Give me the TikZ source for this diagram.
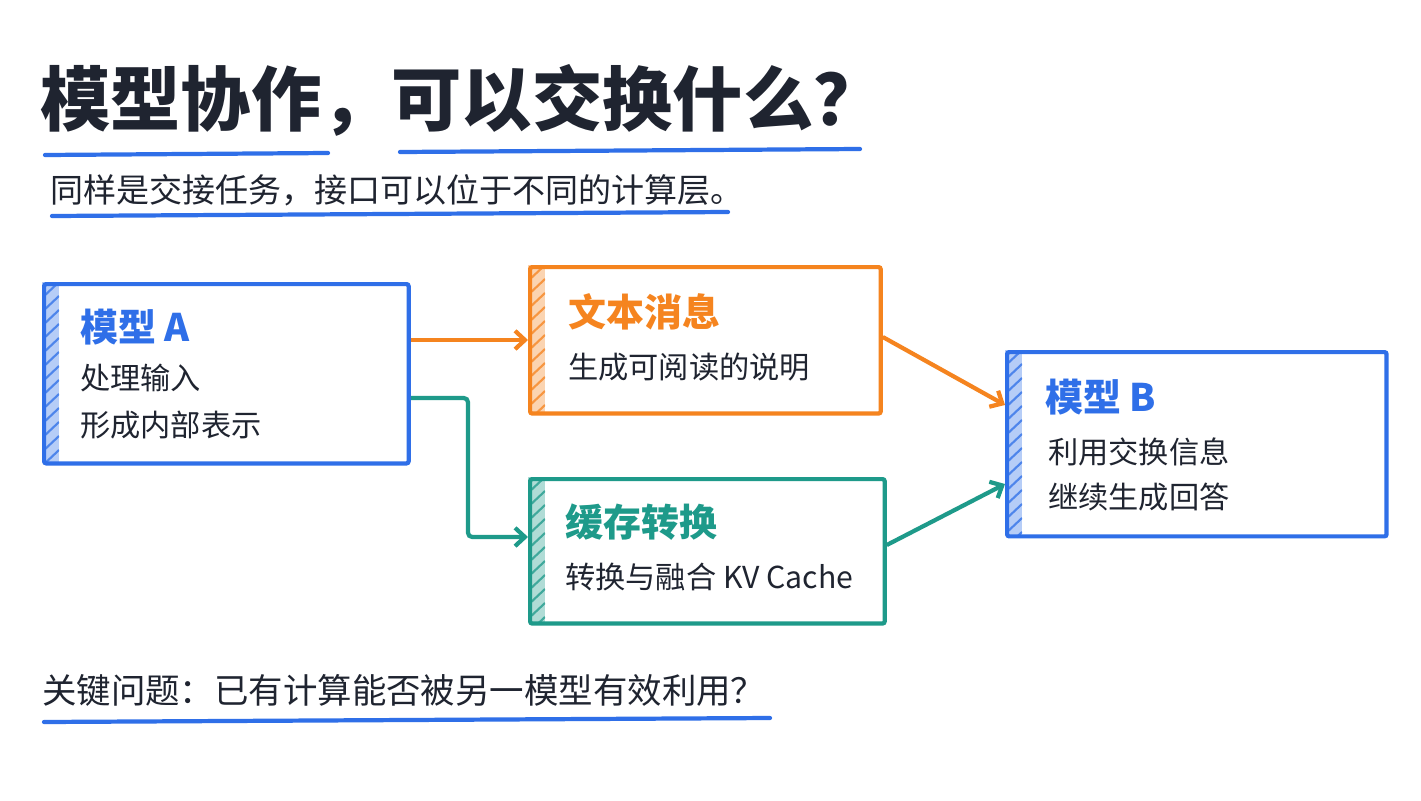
\documentclass[tikz,border=0pt]{standalone}
\usepackage{fontspec}
\setmainfont{Noto Sans CJK SC}
\usetikzlibrary{calc,arrows.meta}
\definecolor{inkDark}{HTML}{1F2430}
\definecolor{boxBlue}{HTML}{2F6FE8}
\definecolor{boxOrange}{HTML}{F5841F}
\definecolor{boxTeal}{HTML}{1E9A8A}
\newcommand{\px}{1.417pt}
\tikzset{
  card/.style={draw=#1, line width=6pt, rounded corners=3pt, anchor=north west, inner sep=0pt},
  cardTitle/.style={anchor=west, text=#1, font=\fontsize{54}{60}\selectfont\bfseries, inner sep=0pt},
  cardText/.style={anchor=west, text=inkDark, font=\fontsize{43}{48}\selectfont, inner sep=0pt},
  link/.style={draw=#1, line width=6pt, -{Straight Barb[length=14pt,width=26pt,line width=6pt]}, rounded corners=6pt},
  underline/.style={draw=boxBlue, line width=6pt, line cap=round}
}
\begin{document}
\begin{tikzpicture}[x=0.05cm,y=-0.05cm]
	\useasboundingbox[fill=white] (0,0) rectangle (1421,800);
	% heading
	\node[anchor=west, inner sep=0pt, text=inkDark, font=\fontsize{100}{106}\selectfont\bfseries] (title) at (40,100) {模型协作，可以交换什么？};
	\draw[underline] (45,155) -- (328,153);
	\draw[underline] (400,152) -- (860,149);
	\node[anchor=west, inner sep=0pt, text=inkDark, font=\fontsize{47}{50}\selectfont] (subtitle) at (50,190) {同样是交接任务，接口可以位于不同的计算层。};
	\draw[underline] (52,216) -- (728,212);
	% boxes
	\foreach \name/\col/\xa/\ya/\xb/\yb in {modelA/boxBlue/42/282/408/462, textMsg/boxOrange/528/265/880/412, cacheConv/boxTeal/528/477/884/622, modelB/boxBlue/1005/350/1386/535}
	{
		\begin{scope}
			\clip (\xa,\ya) rectangle (\xa+17,\yb);
			\fill[\col!35] (\xa,\ya) rectangle (\xa+17,\yb);
			\foreach \k in {0,14,...,200}
				\draw[\col!85, line width=3pt] (\xa,\ya+\k+16) -- (\xa+17,\ya+\k);
		\end{scope}
		\node[card=\col, minimum width={(\xb-\xa)*\px}, minimum height={(\yb-\ya)*\px}] (\name) at (\xa,\ya) {};
	}
	\node[cardTitle=boxBlue] (aTitle) at (80,327) {模型 A};
	\node[cardText] (aLine1) at (80,378) {处理输入};
	\node[cardText] (aLine2) at (80,425) {形成内部表示};
	\node[cardTitle=boxOrange] (msgTitle) at (568,312) {文本消息};
	\node[cardText] (msgLine) at (568,367) {生成可阅读的说明};
	\node[cardTitle=boxTeal] (cacheTitle) at (565,522) {缓存转换};
	\node[cardText] (cacheLine) at (565,577) {转换与融合 KV Cache};
	\node[cardTitle=boxBlue] (bTitle) at (1045,397) {模型 B};
	\node[cardText] (bLine1) at (1048,452) {利用交换信息};
	\node[cardText] (bLine2) at (1048,497) {继续生成回答};
	% connectors
	\coordinate (aOut1) at (modelA.east |- 0,340);
	\coordinate (aOut2) at (modelA.east |- 0,398);
	\draw[link=boxOrange] (aOut1) -- (textMsg.west |- aOut1);
	\draw[link=boxTeal] (aOut2) -- (468,398) -- (468,537) -- (cacheConv.west |- 0,537);
	\draw[link=boxOrange] (textMsg.east |- 0,337) -- (modelB.west |- 0,405);
	\draw[link=boxTeal] (cacheConv.east |- 0,545) -- (modelB.west |- 0,484);
	% question
	\node[anchor=west, inner sep=0pt, text=inkDark, font=\fontsize{49}{52}\selectfont] (question) at (42,690) {关键问题：已有计算能否被另一模型有效利用？};
	\draw[underline] (44,722) -- (770,718);
\end{tikzpicture}
\end{document}
